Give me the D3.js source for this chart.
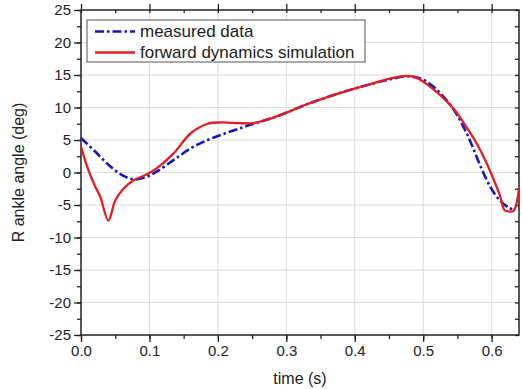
<!DOCTYPE html>
<html>
<head>
<meta charset="utf-8">
<script src="https://cdn.jsdelivr.net/npm/d3@7"></script>
<style>
  body { margin: 0; background: #fff; }
  svg { display: block; font-family: "Liberation Sans", Arial, sans-serif; }
</style>
</head>
<body>
<svg id="chart" width="522" height="389"></svg>
<script>
// measured ankle angle (blue dash-dot)
const measuredTime = [0.000, 0.020, 0.040, 0.060, 0.077, 0.095, 0.110, 0.135, 0.160, 0.185, 0.210, 0.235,
  0.255, 0.280, 0.300, 0.330, 0.360, 0.390, 0.420, 0.450, 0.475, 0.495, 0.510, 0.525, 0.545, 0.560,
  0.572, 0.584, 0.598, 0.612, 0.625, 0.633];
const measuredAngle = [5.3, 3.3, 1.2, -0.4, -1.05, -0.7, 0.1, 1.9, 3.7, 5.0, 6.0, 6.9,
  7.6, 8.4, 9.2, 10.5, 11.6, 12.6, 13.5, 14.3, 14.8, 14.5, 13.6, 12.2, 9.6, 6.8,
  4.0, 0.9, -2.2, -4.3, -5.4, -5.8];

// forward dynamics simulation (red solid)
const simTime = [0.000, 0.010, 0.020, 0.028, 0.040, 0.050, 0.062, 0.077, 0.094, 0.110, 0.135, 0.160,
  0.185, 0.205, 0.230, 0.252, 0.280, 0.300, 0.330, 0.360, 0.390, 0.420, 0.450, 0.475, 0.490, 0.505,
  0.525, 0.546, 0.563, 0.578, 0.593, 0.605, 0.612, 0.619, 0.625, 0.632, 0.640];
const simAngle = [4.0, 0.6, -2.0, -3.7, -7.4, -4.3, -2.5, -1.2, -0.4, 0.6, 2.9, 6.0,
  7.5, 7.7, 7.6, 7.6, 8.4, 9.2, 10.5, 11.6, 12.6, 13.5, 14.4, 14.85, 14.6, 13.6,
  11.9, 9.6, 7.0, 4.5, 1.4, -1.6, -3.5, -5.8, -6.0, -5.9, -2.5];

const xTicks = [0.0, 0.1, 0.2, 0.3, 0.4, 0.5, 0.6];
const yTicks = [-25, -20, -15, -10, -5, 0, 5, 10, 15, 20, 25];
const legendLabels = ["measured data", "forward dynamics simulation"];

const margin = { top: 10, right: 3, bottom: 54, left: 81 };
const width = 522, height = 389;
const svg = d3.select("#chart");

const x = d3.scaleLinear().domain([0, 0.64]).range([margin.left, width - margin.right]);
const y = d3.scaleLinear().domain([-25, 25]).range([height - margin.bottom, margin.top]);

const xMinor = d3.range(0, 0.64, 0.05);
const yMinor = d3.range(-25, 25.01, 2.5);

// grid
svg.append("g").selectAll("line").data(xTicks.slice(1)).join("line")
  .attr("x1", d => x(d)).attr("x2", d => x(d))
  .attr("y1", y(-25)).attr("y2", y(25))
  .attr("stroke", "#dcdcdc").attr("stroke-width", 1);
svg.append("g").selectAll("line").data(yTicks.slice(1, -1)).join("line")
  .attr("x1", x(0)).attr("x2", x(0.64))
  .attr("y1", d => y(d)).attr("y2", d => y(d))
  .attr("stroke", "#dcdcdc").attr("stroke-width", 1);

// axes
const fmt = d => d.toFixed(1);
svg.append("g").attr("transform", `translate(0,${y(-25)})`)
  .call(d3.axisBottom(x).tickValues(xMinor).tickSize(4).tickFormat(""));
svg.append("g").attr("transform", `translate(0,${y(-25)})`)
  .call(d3.axisBottom(x).tickValues(xTicks).tickSize(7).tickPadding(3).tickFormat(fmt));
svg.append("g").attr("transform", `translate(${x(0)},0)`)
  .call(d3.axisLeft(y).tickValues(yMinor).tickSize(4).tickFormat(""));
svg.append("g").attr("transform", `translate(${x(0)},0)`)
  .call(d3.axisLeft(y).tickValues(yTicks).tickSize(7).tickPadding(3).tickFormat(d => String(d)));
svg.append("g").attr("transform", `translate(0,${y(25)})`)
  .call(d3.axisBottom(x).tickValues(xMinor).tickSize(3).tickFormat(""));
svg.append("g").attr("transform", `translate(0,${y(25)})`)
  .call(d3.axisTop(x).tickValues(xTicks).tickSize(6).tickFormat(""));
svg.append("g").attr("transform", `translate(${x(0.64)},0)`)
  .call(d3.axisLeft(y).tickValues(yMinor).tickSize(4).tickFormat(""));

svg.selectAll(".domain").remove();
svg.selectAll(".tick line").attr("stroke", "#222").attr("stroke-width", 1.3);
svg.selectAll(".tick text").attr("font-size", 15).attr("fill", "#222")
  .attr("font-family", "'Liberation Sans', Arial, sans-serif");

svg.append("rect")
  .attr("x", x(0)).attr("y", y(25))
  .attr("width", x(0.64) - x(0)).attr("height", y(-25) - y(25))
  .attr("fill", "none").attr("stroke", "#222").attr("stroke-width", 1.5);

// series
const line = d3.line().curve(d3.curveCatmullRom.alpha(0.5))
  .x(d => x(d[0])).y(d => y(d[1]));
const plot = svg.append("g");
plot.append("path")
  .attr("d", line(measuredTime.map((t, i) => [t, measuredAngle[i]])))
  .attr("fill", "none").attr("stroke", "#1414c8").attr("stroke-width", 2.6)
  .attr("stroke-dasharray", "9,3,2.5,3");
plot.append("path")
  .attr("d", line(simTime.map((t, i) => [t, simAngle[i]])))
  .attr("fill", "none").attr("stroke", "#e41e1e").attr("stroke-width", 2.3)
  .attr("stroke-linejoin", "round");

// legend
const legend = svg.append("g");
legend.append("rect").attr("x", 87).attr("y", 20).attr("width", 278).attr("height", 42)
  .attr("fill", "#fff").attr("stroke", "#555").attr("stroke-width", 1);
const styles = [
  { color: "#1414c8", dash: "9,3,2.5,3", w: 2.6 },
  { color: "#e41e1e", dash: null, w: 2.3 }
];
legendLabels.forEach((label, i) => {
  const cy = 31.5 + i * 21;
  legend.append("line").attr("x1", 95).attr("x2", 135).attr("y1", cy).attr("y2", cy)
    .attr("stroke", styles[i].color).attr("stroke-width", styles[i].w)
    .attr("stroke-dasharray", styles[i].dash);
  legend.append("text").attr("x", 140).attr("y", cy).attr("dy", "0.35em")
    .attr("font-size", 17).attr("fill", "#222").text(label);
});

// axis titles
svg.append("text").attr("x", (x(0) + x(0.64)) / 2).attr("y", 384)
  .attr("text-anchor", "middle").attr("font-size", 16).attr("fill", "#222").text("time (s)");
svg.append("text").attr("transform", `translate(24,${y(0)}) rotate(-90)`)
  .attr("text-anchor", "middle").attr("font-size", 16).attr("fill", "#222").text("R ankle angle (deg)");
</script>
</body>
</html>
